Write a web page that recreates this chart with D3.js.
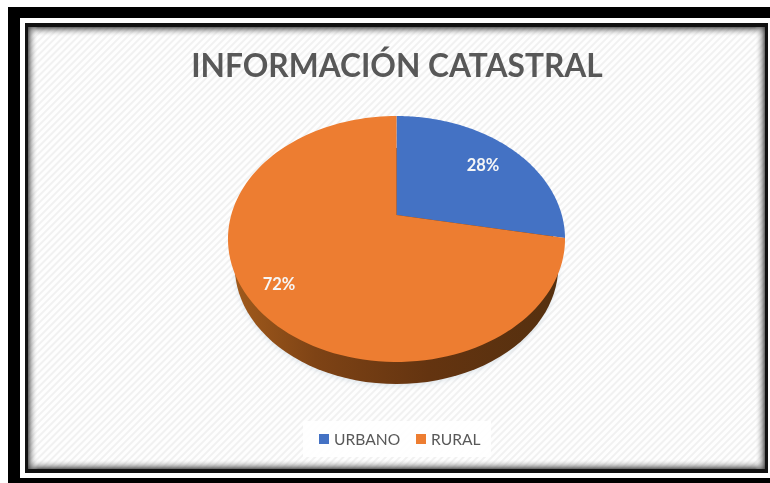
<!DOCTYPE html>
<html>
<head>
<meta charset="utf-8">
<style>html,body{margin:0;padding:0;background:#fff}svg{display:block}</style>
<script src="https://cdn.jsdelivr.net/npm/d3@7/dist/d3.min.js"></script>
</head>
<body>
<script>
const categories = ["URBANO", "RURAL"];
const values = [28, 72];
const sliceColors = ["#4472c4", "#ed7d31"];
const chartTitle = "INFORMACIÓN CATASTRAL";

const W = 770, H = 483;
const svg = d3.select("body").append("svg").attr("width", W).attr("height", H);
const defs = svg.append("defs");

const hatch = defs.append("pattern").attr("id", "hatch").attr("width", 5).attr("height", 5)
  .attr("patternUnits", "userSpaceOnUse").attr("patternTransform", "rotate(45)");
hatch.append("rect").attr("width", 5).attr("height", 5).attr("fill", "#fefefe");
hatch.append("rect").attr("width", 2).attr("height", 5).attr("fill", "#f1f1f1");

function edgeGrad(id, x1, y1, x2, y2) {
  const g = defs.append("linearGradient").attr("id", id)
    .attr("x1", x1).attr("y1", y1).attr("x2", x2).attr("y2", y2);
  g.append("stop").attr("offset", 0).attr("stop-color", "#444").attr("stop-opacity", 0.85);
  g.append("stop").attr("offset", 0.4).attr("stop-color", "#888").attr("stop-opacity", 0.45);
  g.append("stop").attr("offset", 1).attr("stop-color", "#fff").attr("stop-opacity", 0);
}
edgeGrad("eT", 0, 0, 0, 1); edgeGrad("eB", 0, 1, 0, 0); edgeGrad("eL", 0, 0, 1, 0); edgeGrad("eR", 1, 0, 0, 0);

const side = defs.append("linearGradient").attr("id", "side");
side.append("stop").attr("offset", 0).attr("stop-color", "#a05a1c");
side.append("stop").attr("offset", 0.25).attr("stop-color", "#7e4315");
side.append("stop").attr("offset", 0.6).attr("stop-color", "#643410");
side.append("stop").attr("offset", 1).attr("stop-color", "#55300f");

defs.append("filter").attr("id", "soft").attr("x", "-5%").attr("y", "-5%").attr("width", "110%").attr("height", "110%")
  .append("feGaussianBlur").attr("stdDeviation", 0.45);
defs.append("filter").attr("id", "blur3").attr("x", "-10%").attr("y", "-10%").attr("width", "120%").attr("height", "120%")
  .append("feGaussianBlur").attr("stdDeviation", 2.5);

// Frame
svg.append("rect").attr("width", W).attr("height", H).attr("fill", "#fff");
svg.append("rect").attr("x", 8).attr("y", 7).attr("width", W - 8).attr("height", H - 7).attr("fill", "#000");
svg.append("rect").attr("x", 20).attr("y", 18).attr("width", W - 20).attr("height", 460).attr("fill", "#fff");
svg.append("rect").attr("x", 25).attr("y", 23).attr("width", 743).attr("height", 450).attr("fill", "#111");
const px = 28, py = 27, pw = 737, ph = 442;
svg.append("rect").attr("x", px).attr("y", py).attr("width", pw).attr("height", ph).attr("fill", "url(#hatch)");
const e = 10;
svg.append("rect").attr("x", px).attr("y", py).attr("width", pw).attr("height", e).attr("fill", "url(#eT)");
svg.append("rect").attr("x", px).attr("y", py + ph - e).attr("width", pw).attr("height", e).attr("fill", "url(#eB)");
svg.append("rect").attr("x", px).attr("y", py).attr("width", e).attr("height", ph).attr("fill", "url(#eL)");
svg.append("rect").attr("x", px + pw - e).attr("y", py).attr("width", e).attr("height", ph).attr("fill", "url(#eR)");

// Title
svg.append("text").attr("x", 397).attr("y", 77).attr("text-anchor", "middle")
  .attr("font-family", "Lato").attr("font-weight", 700).attr("font-size", 31.7)
  .attr("fill", "#595959").attr("filter", "url(#soft)").text(chartTitle);

// Perspective pie
const cx = 396.5, apexY = 215, A = 165.3, B = 118.3, k = -0.195;
const ellipseCy = 239, baseScale = 0.96, baseDrop = 27;
const project = (a, r) => {
  const u = r * Math.sin(a), v = r * Math.cos(a), w = 1 - k * v;
  return [cx + A * u / w, apexY - B * v / w];
};
const sampled = (a0, a1) => d3.range(0, 121).map(i => a0 + (a1 - a0) * i / 120);
const line = d3.line();
const pie = d3.pie().sort(null).value(d => d)(values);

// lower rim of the disc: the top outline, pulled in and dropped
const base = sampled(0, 2 * Math.PI).map(a => project(a, 1))
  .map(p => [cx + (p[0] - cx) * baseScale, ellipseCy + (p[1] - ellipseCy) * baseScale + baseDrop]);
svg.append("path").attr("d", line(base.map(p => [p[0], p[1] + 2])) + "Z")
  .attr("fill", "#9fb6c8").attr("fill-opacity", 0.3).attr("filter", "url(#blur3)");
svg.append("path").attr("d", line(base) + "Z").attr("fill", "url(#side)");

// top faces
svg.selectAll("path.slice").data(pie).enter().append("path").attr("class", "slice")
  .attr("d", d => line([project(0, 0)].concat(sampled(d.startAngle, d.endAngle).map(a => project(a, 1)))) + "Z")
  .attr("fill", (d, i) => sliceColors[i]);

// data labels
const labelPos = [[483, 171], [279, 290]];
svg.selectAll("text.lbl").data(pie).enter().append("text").attr("class", "lbl")
  .attr("x", (d, i) => labelPos[i][0]).attr("y", (d, i) => labelPos[i][1])
  .attr("text-anchor", "middle").attr("font-family", "Lato").attr("font-weight", 700).attr("font-size", 16.5)
  .attr("fill", "#f6f6f6").attr("filter", "url(#soft)").text(d => d.value + "%");

// Legend
svg.append("rect").attr("x", 303).attr("y", 421).attr("width", 188).attr("height", 36).attr("fill", "#fff").attr("opacity", 0.9);
const legendX = d3.scaleOrdinal().domain(categories).range([319, 416]);
const lg = svg.selectAll("g.lg").data(categories).enter().append("g").attr("class", "lg")
  .attr("transform", d => `translate(${legendX(d)},434)`);
lg.append("rect").attr("width", 10).attr("height", 10).attr("fill", (d, i) => sliceColors[i]);
lg.append("text").attr("x", 15).attr("y", 10.5).attr("font-family", "Lato").attr("font-size", 15.6)
  .attr("fill", "#595959").attr("filter", "url(#soft)").text(d => d);
</script>
</body>
</html>
